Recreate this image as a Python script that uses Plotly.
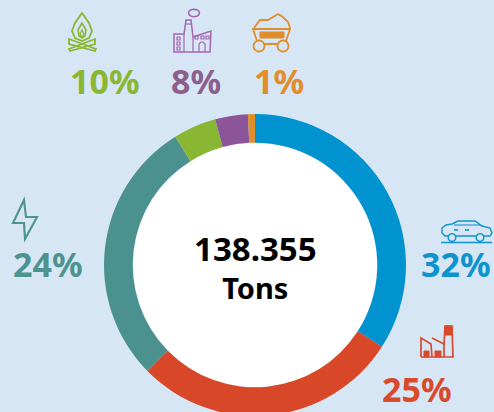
import math
import plotly.graph_objects as go

W, H = 494, 416
categories = ["Transport", "Industry", "Energy", "Biomass", "Factories", "Coal"]
slice_shares = [34.1, 28.5, 28.5, 4.6, 3.5, 0.75]
slice_colors = ["#0093D0", "#D84727", "#4B9190", "#8AB733", "#8C5499", "#DE8F2C"]
label_texts = ["32%", "25%", "24%", "10%", "8%", "1%"]
label_colors = ["#0F93CF", "#D84A2B", "#4E9390", "#8AB733", "#8C5F8C", "#E08E2B"]
label_pos = [(456, 264), (417, 388.5), (48, 264), (105, 80.5), (196, 80.5), (279, 80.5)]
center_text = '<span style="font-size:33px">138.355</span><br>Tons'
BG = "#D7E6F5"

FONT = "Noto Sans"

def X(v): return v / W
def Y(v): return 1 - v / H

def path(points, close=False):
    d = "M" + " L".join(f"{X(a):.5f},{Y(b):.5f}" for a, b in points)
    return d + (" Z" if close else "")

def circle_pts(cx, cy, r, ry=None, n=24):
    ry = r if ry is None else ry
    return [(cx + r * math.cos(2 * math.pi * i / n), cy + ry * math.sin(2 * math.pi * i / n)) for i in range(n)]

shapes = []
def line(points, color, width=1.5, close=False, fill=None):
    s = dict(type="path", xref="paper", yref="paper", path=path(points, close),
             line=dict(color=color, width=width))
    if fill:
        s["fillcolor"] = fill
    shapes.append(s)

# white centre of the ring
shapes.append(dict(type="circle", xref="paper", yref="paper", layer="below",
                   x0=X(133), x1=X(377), y0=Y(143), y1=Y(387),
                   fillcolor="#FFFFFF", line=dict(width=0)))

# campfire icon
g = "#8AB733"
line([(82, 13), (75, 23), (72, 31), (75, 38), (82, 41), (89, 38), (92, 31), (89, 23)], g, 1.8, True)
line([(82, 23), (78, 30), (79, 36), (82, 38), (85, 36), (86, 30)], g, 1.6, True)
line([(82, 30), (80, 34), (82, 37), (84, 34)], g, 1.3, True)
line([(69, 39), (96, 49), (95, 51), (69, 44)], g, 1.8, True)
line([(95, 39), (69, 49), (70, 51), (95, 44)], g, 1.8, True)

# factory icon
p = "#A565B0"
line([(174, 52), (174, 34), (184, 34), (186, 20), (191, 20), (193, 37), (211, 31), (210, 52)], p, 1.5, True)
line([(184, 34), (184, 52)], p, 1.2)
line([(193, 37), (193, 52)], p, 1.2)
line([(186, 24), (191, 24)], p, 1.2)
line([(199, 52), (199, 44), (201, 42), (203, 42), (205, 44), (205, 52)], p, 1.2)
for x0, y0 in [(177, 37), (177, 42), (177, 47), (195, 36), (201, 36), (206, 36)]:
    line([(x0, y0), (x0 + 3, y0), (x0 + 3, y0 + 3), (x0, y0 + 3)], p, 1.2, True)
line(circle_pts(194, 13, 5.5, 3.8, 12), p, 1.5, True)

# coal wagon icon
o = "#E08E2B"
line([(253, 29), (290, 29), (285, 44), (258, 44)], o, 1.8, True)
line([(254, 28), (260, 20), (268, 20), (278, 14), (283, 17), (288, 22), (290, 28)], o, 1.8)
line([(260, 32), (284, 32), (284, 38), (260, 38)], o, 1, True, o)
line(circle_pts(259, 46, 5.5), o, 1.8, True, BG)
line(circle_pts(283, 46, 5.5), o, 1.8, True, BG)

# car icon
b = "#0F93CF"
line([(442, 233), (442, 228), (446, 225), (452, 224), (458, 221), (475, 221), (482, 226), (490, 228), (492, 233), (490, 236), (445, 236)], b, 1.4, True)
line([(441, 242.5), (492, 242.5)], b, 1.5)
line(circle_pts(452, 237.5, 3.8), b, 1.4, True, BG)
line(circle_pts(480, 237.5, 3.8), b, 1.4, True, BG)
line([(454, 225), (481, 225)], b, 1.1)
line([(454, 230), (458, 230)], b, 1.6)
line([(465, 230), (469, 230)], b, 1.6)

# industry icon
r = "#D84A2B"
line([(421, 357), (421, 338), (431, 344), (432, 357)], r, 1.7)
line([(432, 338), (444, 344), (444, 357)], r, 1.7)
line([(421, 357), (453, 357), (452, 326), (445, 326), (444, 345)], r, 1.7)
line([(445, 326), (452, 326), (452, 335), (445, 335)], r, 1, True, r)
line([(424, 351), (429, 351), (429, 357), (424, 357)], r, 1, True, r)
line([(435, 351), (441, 351), (441, 357), (435, 357)], r, 1, True, r)

# lightning icon
t = "#4E9390"
line([(24, 200), (13, 223), (24, 223), (25, 239), (37, 217), (26, 217)], t, 2.1, True)

annotations = [
    dict(text=s, x=X(px), y=Y(py), xref="paper", yref="paper", showarrow=False,
         xanchor="center", yanchor="middle",
         font=dict(family=FONT, size=34, color=c, weight="bold"))
    for s, (px, py), c in zip(label_texts, label_pos, label_colors)
]
annotations.append(dict(text=center_text, x=X(255), y=Y(266.5), xref="paper", yref="paper", showarrow=False,
                        xanchor="center", yanchor="middle",
                        font=dict(family=FONT, size=29, color="#000000", weight="bold")))

fig = go.Figure(go.Pie(
    labels=categories, values=slice_shares, sort=False, direction="clockwise", rotation=0,
    hole=0.81, marker=dict(colors=slice_colors, line=dict(width=0)), textinfo="none",
    domain=dict(x=[104 / W, 406 / W], y=[0, 302 / H]), showlegend=False, hoverinfo="skip",
))
fig.update_layout(width=W, height=H, margin=dict(l=0, r=0, t=0, b=0),
                  paper_bgcolor=BG, plot_bgcolor=BG,
                  shapes=shapes, annotations=annotations)
fig.write_html("out.html", config=dict(displayModeBar=False),
               post_script="document.body.style.margin='0';document.documentElement.style.overflow='hidden';document.body.style.overflow='hidden';")
